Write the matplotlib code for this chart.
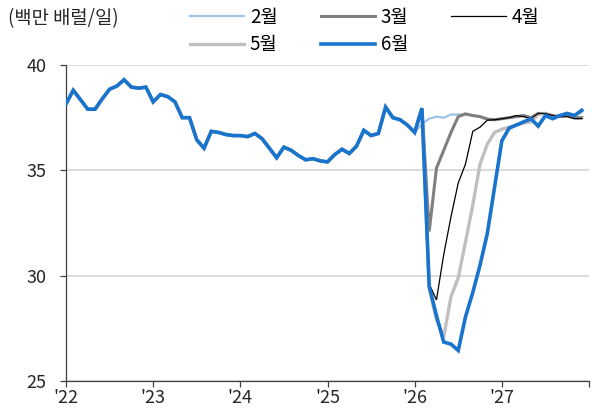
import numpy as np
import matplotlib
matplotlib.use("Agg")
import matplotlib.pyplot as plt

plt.rcParams["font.family"] = ["Noto Sans CJK KR", "DejaVu Sans"]

# ===============================
# DATA (monthly, Jan '22 - Dec '27)
# ===============================

history = [
    38.15, 38.8, 38.35, 37.9, 37.9, 38.4, 38.85, 39.0, 39.3, 38.95, 38.9, 38.95,
    38.25, 38.6, 38.5, 38.25, 37.5, 37.5, 36.45, 36.05, 36.85, 36.8, 36.7, 36.65,
    36.65, 36.6, 36.75, 36.5, 36.05, 35.6, 36.1, 35.95, 35.7, 35.5, 35.55, 35.45,
    35.4, 35.75, 36.0, 35.8, 36.15, 36.9, 36.65, 36.75, 38.0, 37.5, 37.4, 37.15,
    36.8,
]

# forecast paths from Feb '26 onwards (Feb '26 - Dec '27)
feb_path = [37.2, 37.45, 37.55, 37.5, 37.65, 37.65, 37.65, 37.6, 37.55, 37.45,
            37.4, 37.45, 37.5, 37.55, 37.6, 37.5, 37.7, 37.7, 37.6, 37.55, 37.6, 37.5, 37.5]
mar_path = [37.95, 32.1, 35.1, 35.95, 36.8, 37.55, 37.68, 37.6, 37.55, 37.43,
            37.4, 37.45, 37.5, 37.55, 37.6, 37.5, 37.7, 37.7, 37.6, 37.55, 37.6, 37.5, 37.5]
apr_path = [37.95, 29.6, 28.85, 31.0, 32.8, 34.4, 35.3, 36.85, 37.05, 37.38,
            37.4, 37.45, 37.5, 37.6, 37.55, 37.45, 37.7, 37.7, 37.6, 37.55, 37.55, 37.45, 37.45]
may_path = [37.95, 29.4, 27.9, 27.1, 29.0, 29.9, 31.6, 33.35, 35.3, 36.25,
            36.8, 36.95, 37.05, 37.15, 37.25, 37.3, 37.65, 37.7, 37.55, 37.6, 37.7, 37.6, 37.8]
jun_path = [37.95, 29.5, 28.1, 26.85, 26.75, 26.45, 28.05, 29.2, 30.5, 32.0,
            34.2, 36.4, 37.0, 37.15, 37.3, 37.45, 37.1, 37.6, 37.45, 37.6, 37.7, 37.6, 37.85]

labels = ["2월", "3월", "4월", "5월", "6월"]
year_labels = ["'22", "'23", "'24", "'25", "'26", "'27"]

series = {
    "2월": history + feb_path,
    "3월": history + mar_path,
    "4월": history + apr_path,
    "5월": history + may_path,
    "6월": history + jun_path,
}

styles = {
    "2월": dict(color="#9DC3E6", lw=1.6, zorder=2),
    "3월": dict(color="#7F7F7F", lw=2.2, zorder=3),
    "4월": dict(color="#000000", lw=0.9, zorder=5),
    "5월": dict(color="#BFBFBF", lw=2.4, zorder=4),
    "6월": dict(color="#1874CD", lw=2.6, zorder=6),
}

# ===============================
# PLOT
# ===============================

fig = plt.figure(figsize=(5.92, 4.12), dpi=100)
ax = fig.add_axes([66 / 592, 1 - 381 / 412, (589 - 66) / 592, (381 - 65) / 412])

lines = {}
for name in labels:
    y = np.array(series[name])
    x = np.arange(len(y))
    lines[name], = ax.plot(x, y, solid_joinstyle="miter", **styles[name])

ax.set_xlim(0, 72)
ax.set_ylim(25, 40)
ax.set_yticks([25, 30, 35, 40])
ax.set_xticks(np.arange(0, 73, 12))
ax.set_xticklabels(year_labels + [""])

ax.grid(axis="y", color="#D9D9D9", lw=1.3, zorder=0)
ax.set_axisbelow(True)
for s in ["top", "right"]:
    ax.spines[s].set_visible(False)
for s in ["left", "bottom"]:
    ax.spines[s].set_color("#404040")
    ax.spines[s].set_linewidth(0.9)

ax.tick_params(axis="y", length=4, width=0.9, color="#404040", pad=10,
               labelsize=13, labelcolor="#262626")
ax.tick_params(axis="x", length=4, width=0.9, color="#404040", pad=2,
               labelsize=13, labelcolor="#262626")

# legend: row1 2월 3월 4월, row2 5월 6월 (column-major fill)
order = ["2월", "5월", "3월", "6월", "4월"]
fig.legend([lines[k] for k in order], order, ncol=3, frameon=False,
           loc="upper left", bbox_to_anchor=(186 / 592, 1 - 3 / 412),
           fontsize=13.5, handlelength=2.9, handletextpad=0.3,
           columnspacing=2.3, labelspacing=0.35, borderpad=0.2,
           borderaxespad=0)

fig.text(8 / 592, 1 - 19 / 412, "(백만 배럴/일)", fontsize=13.5,
         color="#262626", va="center", ha="left")

fig.savefig("out.png", dpi=100)
